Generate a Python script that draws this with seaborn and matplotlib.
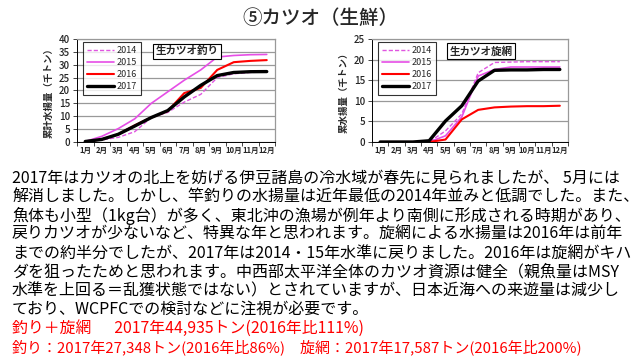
import numpy as np
import pandas as pd
import matplotlib
matplotlib.use('Agg')
import matplotlib.pyplot as plt
import seaborn as sns

# データ（千トン、累計）
months = ['1月', '2月', '3月', '4月', '5月', '6月', '7月', '8月', '9月', '10月', '11月', '12月']
years = ['2014', '2015', '2016', '2017']

pole_2014 = [0.2, 0.8, 1.8, 4.0, 9.5, 11.5, 15.5, 18.5, 25.0, 26.5, 27.0, 27.2]
pole_2015 = [0.2, 2.2, 5.2, 9.0, 15.0, 19.5, 24.0, 28.0, 33.0, 33.6, 33.9, 34.0]
pole_2016 = [0.2, 1.0, 3.0, 6.5, 9.5, 12.0, 19.0, 21.0, 28.0, 31.0, 31.5, 31.8]
pole_2017 = [0.2, 1.0, 3.0, 6.2, 9.5, 12.2, 17.5, 22.0, 25.8, 27.0, 27.3, 27.35]

seine_2014 = [0.0, 0.0, 0.0, 0.0, 2.7, 6.8, 16.8, 19.3, 19.4, 19.5, 19.5, 19.5]
seine_2015 = [0.0, 0.0, 0.0, 0.0, 1.5, 6.1, 16.0, 17.6, 18.2, 18.2, 18.2, 18.2]
seine_2016 = [0.0, 0.0, 0.0, 0.0, 0.6, 5.5, 7.8, 8.4, 8.6, 8.7, 8.7, 8.8]
seine_2017 = [0.0, 0.0, 0.0, 0.3, 5.1, 8.8, 14.8, 17.4, 17.5, 17.5, 17.6, 17.6]

text_lines = [
    '2017年はカツオの北上を妨げる伊豆諸島の冷水域が春先に見られましたが、 5月には',
    '解消しました。しかし、竿釣りの水揚量は近年最低の2014年並みと低調でした。また、',
    '魚体も小型（1kg台）が多く、東北沖の漁場が例年より南側に形成される時期があり、',
    '戻りカツオが少ないなど、特異な年と思われます。旋網による水揚量は2016年は前年',
    'までの約半分でしたが、2017年は2014・15年水準に戻りました。2016年は旋網がキハ',
    'ダを狙ったためと思われます。中西部太平洋全体のカツオ資源は健全（親魚量はMSY',
    '水準を上回る＝乱獲状態ではない）とされていますが、日本近海への来遊量は減少し',
    'ており、WCPFCでの検討などに注視が必要です。',
]
red_lines = [
    '釣り＋旋網　  2017年44,935トン(2016年比111%)',
    '釣り：2017年27,348トン(2016年比86%)　旋網：2017年17,587トン(2016年比200%)',
]

sns.set_style('white')
plt.rcParams['font.family'] = ['Noto Sans CJK JP', 'DejaVu Sans']

colors = {'2014': '#e055e0', '2015': '#e64ee6', '2016': '#ff0000', '2017': '#000000'}
dashes = {'2014': (3, 1.5), '2015': '', '2016': '', '2017': ''}
widths = {'2014': 1.0, '2015': 1.2, '2016': 1.5, '2017': 2.4}


def make_df(series):
    rows = []
    for y, vals in zip(years, series):
        for i, v in enumerate(vals):
            rows.append({'month': i + 1, 'value': v, 'year': y})
    return pd.DataFrame(rows)


def draw_panel(ax, df, ymax, ylabel, box_title):
    for y in years:
        sub = df[df['year'] == y]
        sns.lineplot(data=sub, x='month', y='value', ax=ax, color=colors[y],
                     linewidth=widths[y], label=y)
        if dashes[y]:
            ax.lines[-1].set_dashes(dashes[y])
    ax.set_xlim(0.5, 12.5)
    ax.set_ylim(0, ymax)
    ax.set_yticks(np.arange(0, ymax + 1, 5))
    ax.set_xticks(range(1, 13))
    ax.set_xticklabels(months, fontsize=5.5, fontweight='bold')
    ax.set_xticks(np.arange(0.5, 13, 1), minor=True)
    ax.tick_params(axis='x', which='major', length=0, pad=3)
    ax.tick_params(axis='x', which='minor', length=3, direction='out', width=0.6, bottom=True)
    ax.tick_params(axis='y', labelsize=7, length=3, direction='out', width=0.6, left=True, pad=2)
    for lab in ax.get_yticklabels():
        lab.set_fontweight('medium')
    ax.yaxis.grid(True, color='#999999', linewidth=0.9)
    ax.set_axisbelow(True)
    ax.set_xlabel('')
    ax.set_ylabel(ylabel, fontsize=6.8, fontweight='bold', labelpad=4)
    for s in ['top', 'right']:
        ax.spines[s].set_color('#999999')
        ax.spines[s].set_linewidth(0.9)
    for s in ['left', 'bottom']:
        ax.spines[s].set_color('#000000')
        ax.spines[s].set_linewidth(0.7)
    leg = ax.legend(loc='upper left', bbox_to_anchor=(0.02, 0.99), fontsize=6.5,
                    frameon=True, fancybox=False, handlelength=3.0, borderpad=0.45,
                    labelspacing=0.35, handletextpad=0.3, borderaxespad=0.2)
    leg.get_frame().set_edgecolor('black')
    leg.get_frame().set_linewidth(0.8)
    ax.text(0.555, 0.88, box_title, transform=ax.transAxes, ha='center', va='center',
            fontsize=7.6, fontweight='bold',
            bbox=dict(boxstyle='square,pad=0.25', facecolor='white', edgecolor='black', linewidth=0.8))


fig = plt.figure(figsize=(6.4, 3.6), dpi=100)
fig.patch.set_facecolor('white')

ax1 = fig.add_axes([77 / 640, 1 - 142 / 360, 198 / 640, 103 / 360])
ax2 = fig.add_axes([372 / 640, 1 - 142 / 360, 196 / 640, 103 / 360])

draw_panel(ax1, make_df([pole_2014, pole_2015, pole_2016, pole_2017]), 40,
           '累計水揚量（千トン）', '生カツオ釣り')
draw_panel(ax2, make_df([seine_2014, seine_2015, seine_2016, seine_2017]), 25,
           '累水揚量（千トン）', '生カツオ旋網')

fig.text(0.5, 1 - 18 / 360, '⑤カツオ（生鮮）', ha='center', va='center', fontsize=14,
         fontweight='medium')

ys = [178, 197, 216, 234, 253, 272, 291, 309]
for t, y in zip(text_lines, ys):
    fig.text(12 / 640, 1 - y / 360, t, ha='left', va='center', fontsize=11.5, color='black')
for t, y, fs in zip(red_lines, [328, 347], [11.4, 10.8]):
    fig.text(12 / 640, 1 - y / 360, t, ha='left', va='center', fontsize=fs, color='#ff0000')

fig.savefig('out.png', dpi=100)
